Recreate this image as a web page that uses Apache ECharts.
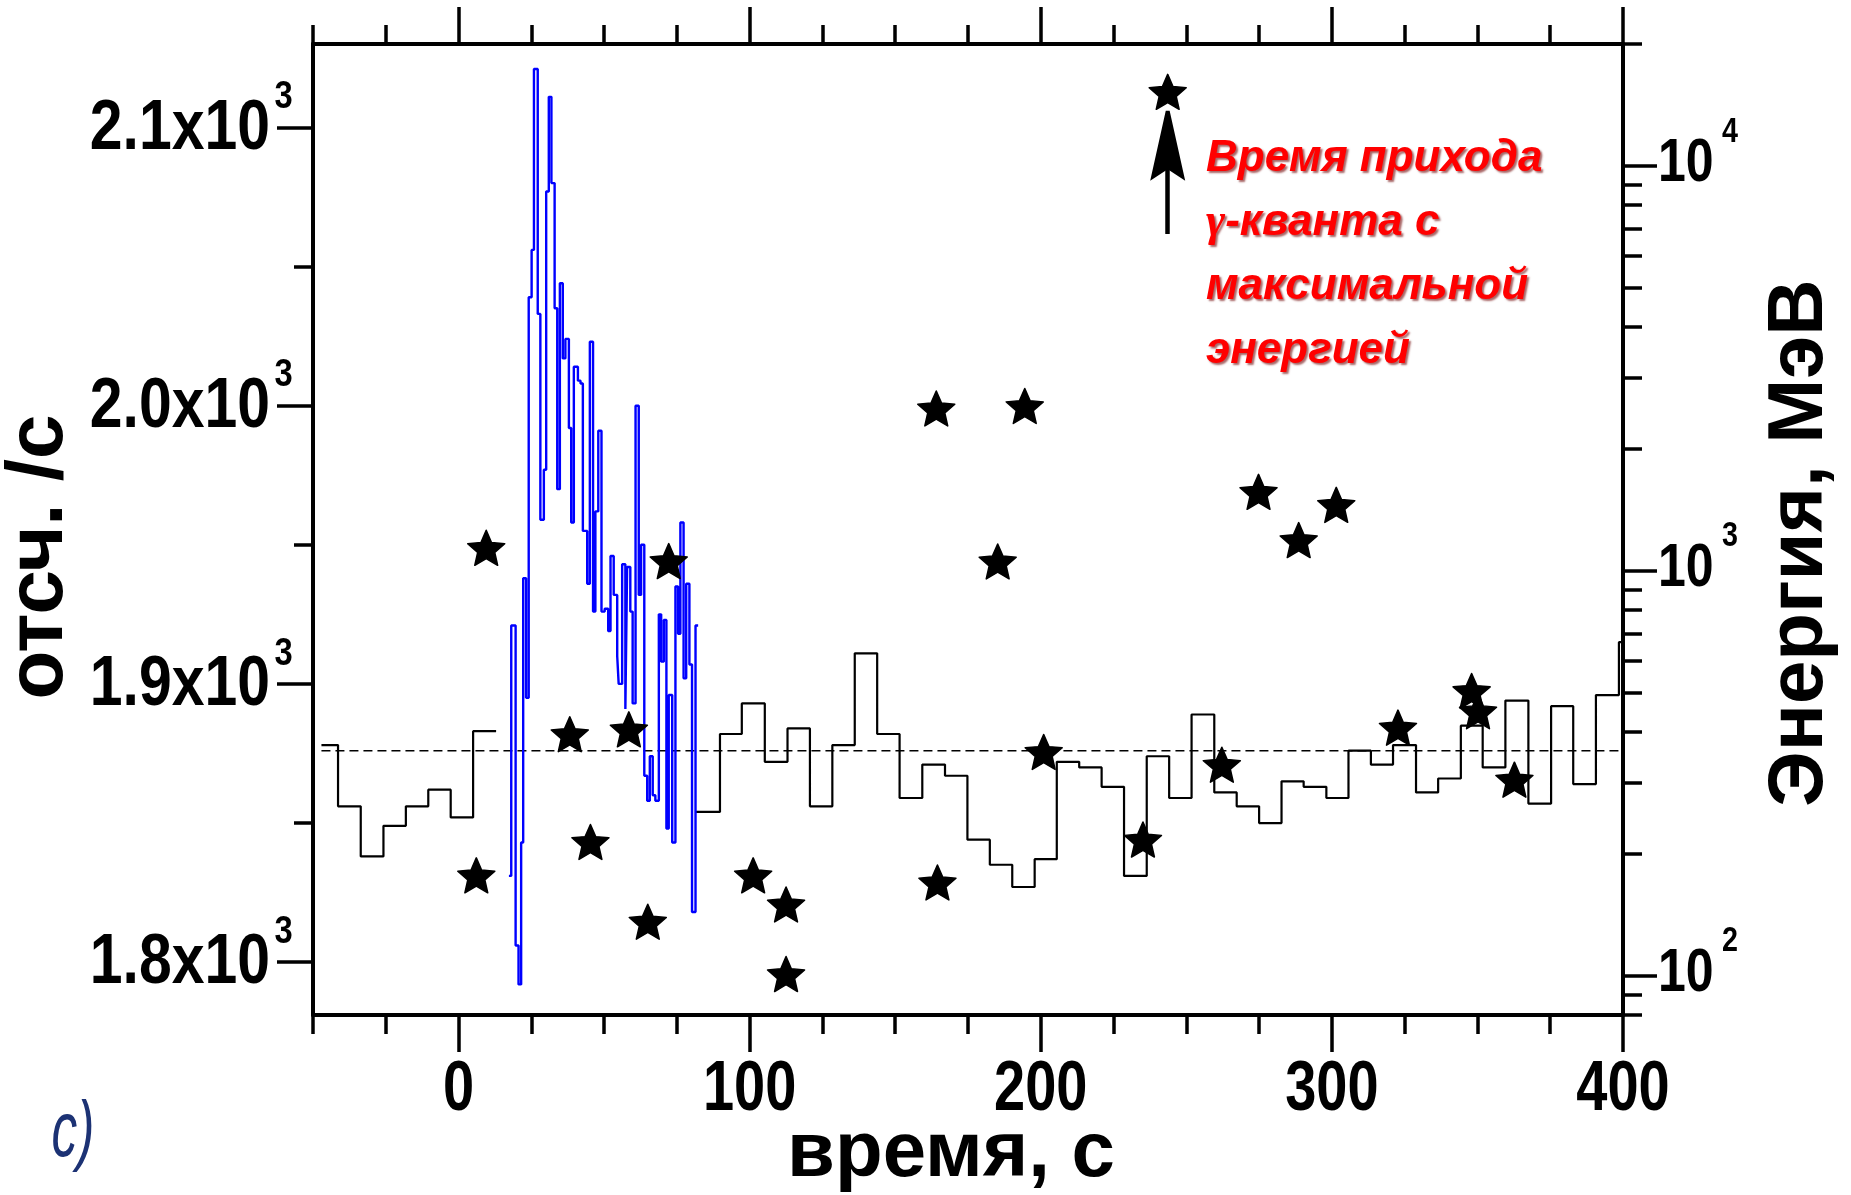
<!DOCTYPE html>
<html><head><meta charset="utf-8">
<script src="https://cdn.jsdelivr.net/npm/echarts@6/dist/echarts.min.js"></script>
<style>html,body{margin:0;padding:0;background:#fff}#c{width:1851px;height:1195px}</style>
</head><body><div id="c"></div>
<script>
// ---------- data ----------
// black histogram (background counts), bin edges in s and count rates
const blackEdgesA = [-47.1, -41.4, -33.6, -25.8, -18.1, -10.4, -2.7, 5.0, 12.9];
const blackValsA  = [1878, 1856, 1838, 1849, 1856, 1862, 1852, 1883];
const blackEdgesB = [81.4, 89.8, 97.3, 105.2, 113.0, 120.7, 128.4, 136.1, 143.8, 151.5, 159.3, 167.1, 174.8, 182.5, 190.2, 197.9, 205.5, 213.2, 220.9, 228.6, 236.4, 244.1, 251.8, 259.6, 267.3, 275.0, 282.7, 290.3, 298.1, 305.7, 313.4, 321.0, 328.9, 336.5, 344.3, 351.8, 359.6, 367.5, 375.3, 382.9, 390.7, 398.6, 406.3];
const blackValsB  = [1854, 1882, 1893, 1872, 1884, 1856, 1878, 1911, 1882, 1859, 1871, 1867, 1844, 1835, 1827, 1837, 1872, 1870, 1863, 1831, 1874, 1859, 1889, 1861, 1856, 1850, 1865, 1863, 1859, 1876, 1871, 1878, 1861, 1866, 1885, 1870, 1894, 1857, 1892, 1864, 1896, 1915];
// blue histogram (burst, fine bins)
const blueEdges = [17.3, 18.1, 19.6, 20.6, 21.5, 22.2, 23.2, 24.1, 25.1, 25.9, 27.2, 28.1, 29.3, 30.1, 31.0, 31.9, 33.0, 33.9, 34.8, 35.8, 36.7, 37.9, 38.7, 39.6, 41.0, 41.9, 42.7, 44.2, 45.1, 46.2, 47.0, 48.0, 49.1, 50.2, 51.4, 52.2, 53.3, 54.5, 55.0, 56.2, 57.3, 57.9, 59.0, 59.8, 60.8, 61.9, 62.7, 63.8, 64.8, 65.7, 66.7, 67.6, 68.8, 69.6, 70.5, 71.4, 72.2, 73.4, 74.5, 75.4, 76.2, 77.3, 78.2, 79.3, 80.2, 81.4, 82.3];
const blueVals  = [1831, 1921, 1806, 1792, 1843, 1938, 1895, 2039, 2056, 2121, 2033, 1959, 1977, 2077, 2111, 2080, 2035, 1970, 2044, 2017, 2024, 1992, 1958, 2014, 2009, 2008, 1955, 1936, 2023, 1926, 1962, 1991, 1926, 1927, 1919, 1946, 1932, 1910, 1900, 1943, 1891, 1942, 1926, 1893, 2000, 1932, 1950, 1867, 1858, 1874, 1860, 1858, 1925, 1908, 1923, 1848, 1896, 1843, 1935, 1918, 1958, 1902, 1936, 1907, 1818, 1921];
// mean background level
const meanLevel = 1876;
const meanSpan = [-47.1, 400];
// gamma quanta: arrival time (s) and energy (MeV)
const starT = [9.5, 6.1, 38.2, 45.3, 58.5, 65.0, 72.2, 101.2, 112.5, 112.5, 164.1, 164.5, 185.2, 194.5, 201.0, 235.1, 243.6, 262.2, 274.8, 288.6, 301.5, 322.7, 348.0, 350.2, 362.7];
const starE = [1140, 177, 395, 214, 406, 136, 1057, 177, 150, 101, 2518, 170, 1055, 2553, 357, 217, 15240, 332, 1567, 1191, 1455, 410, 505, 450, 305];
// arrow annotation (time, shaft energy range, head centre energy)
const arrowT = 243.6;
const arrowE = [6790, 10500];
const arrowHeadE = 11220;
// axes
const xRange = [-50, 400];
const xMajorTicks = [0, 100, 200, 300, 400];
const yLeftRange = [1781, 2130];
const yLeftMajor = [1800, 1900, 2000, 2100];
const yLeftMinor = [1850, 1950, 2050];
const yRightRange = [80, 20000];
const yRightMajor = [100, 1000, 10000];
const yRightMinor = [80, 90, 200, 300, 400, 500, 600, 700, 800, 900, 2000, 3000, 4000, 5000, 6000, 7000, 8000, 9000, 20000];
// texts
const xTitle = 'время, с';
const yLeftTitle = 'отсч. /с';
const yRightTitle = 'Энергия, МэВ';
const noteLines = ['Время прихода', 'γ', '-кванта с', 'максимальной', 'энергией'];
const panelLabel = 'c)';

// ---------- helpers ----------
function stepData(edges, vals) {
  const d = [];
  for (let i = 0; i < vals.length; i++) d.push([edges[i], vals[i]]);
  d.push([edges[vals.length], vals[vals.length - 1]]);
  return d;
}
const SANS = "'Liberation Sans',Arial,sans-serif";
const SERIF = "'Liberation Serif','Times New Roman',serif";
const axisLineStyle = {color: '#000', width: 4};
const tickStyle = {color: '#000', width: 3.5};
const STAR = 'path://M50,0 L63.52,31.39 L97.55,34.55 L71.87,57.11 L79.39,90.45 L50,73 L20.61,90.45 L28.13,57.11 L2.45,34.55 L36.48,31.39 Z';
const HEAD = 'path://M16,0 L20,0 L36,74 L18,62 L0,74 Z';

const chart = echarts.init(document.getElementById('c'), null, {renderer: 'canvas', width: 1851, height: 1195});
chart.setOption({
  animation: false,
  backgroundColor: '#fff',
  grid: {left: 313, right: 228, top: 44, bottom: 180, containLabel: false},
  xAxis: [
    {type: 'value', position: 'bottom', min: xRange[0], max: xRange[1], interval: 25,
     axisLine: {show: true, onZero: false, lineStyle: axisLineStyle},
     axisTick: {show: true, length: 19, lineStyle: tickStyle},
     axisLabel: {show: false}, splitLine: {show: false}},
    {type: 'value', position: 'bottom', min: xRange[0], max: xRange[1],
     axisLine: {show: false, onZero: false},
     axisTick: {show: true, length: 37, lineStyle: tickStyle, customValues: xMajorTicks},
     axisLabel: {show: false}, splitLine: {show: false}},
    {type: 'value', position: 'top', min: xRange[0], max: xRange[1], interval: 25,
     axisLine: {show: true, onZero: false, lineStyle: axisLineStyle},
     axisTick: {show: true, length: 19, lineStyle: tickStyle},
     axisLabel: {show: false}, splitLine: {show: false}},
    {type: 'value', position: 'top', min: xRange[0], max: xRange[1],
     axisLine: {show: false, onZero: false},
     axisTick: {show: true, length: 37, lineStyle: tickStyle, customValues: xMajorTicks},
     axisLabel: {show: false}, splitLine: {show: false}}
  ],
  yAxis: [
    {type: 'value', position: 'left', min: yLeftRange[0], max: yLeftRange[1],
     axisLine: {show: true, onZero: false, lineStyle: axisLineStyle},
     axisTick: {show: true, length: 36, lineStyle: tickStyle, customValues: yLeftMajor},
     axisLabel: {show: false}, splitLine: {show: false}},
    {type: 'value', position: 'left', min: yLeftRange[0], max: yLeftRange[1],
     axisLine: {show: false, onZero: false},
     axisTick: {show: true, length: 19, lineStyle: tickStyle, customValues: yLeftMinor},
     axisLabel: {show: false}, splitLine: {show: false}},
    {type: 'log', logBase: 10, position: 'right', min: yRightRange[0], max: yRightRange[1],
     axisLine: {show: true, onZero: false, lineStyle: axisLineStyle},
     axisTick: {show: true, length: 34, lineStyle: tickStyle, customValues: yRightMajor},
     axisLabel: {show: false}, splitLine: {show: false}},
    {type: 'log', logBase: 10, position: 'right', min: yRightRange[0], max: yRightRange[1],
     axisLine: {show: false, onZero: false},
     axisTick: {show: true, length: 19, lineStyle: tickStyle, customValues: yRightMinor},
     axisLabel: {show: false}, splitLine: {show: false}}
  ],
  series: [
    {type: 'line', name: 'bgA', xAxisIndex: 0, yAxisIndex: 0, data: stepData(blackEdgesA, blackValsA),
     step: 'end', symbol: 'none', clip: true, silent: true, z: 3,
     lineStyle: {color: '#000', width: 2.2}},
    {type: 'line', name: 'bgB', xAxisIndex: 0, yAxisIndex: 0, data: stepData(blackEdgesB, blackValsB),
     step: 'end', symbol: 'none', clip: true, silent: true, z: 3,
     lineStyle: {color: '#000', width: 2.2}},
    {type: 'line', name: 'mean', xAxisIndex: 0, yAxisIndex: 0,
     data: [[meanSpan[0], meanLevel], [meanSpan[1], meanLevel]],
     symbol: 'none', clip: true, silent: true, z: 2,
     lineStyle: {color: '#000', width: 1.6, type: [9, 5]}},
    {type: 'line', name: 'burst', xAxisIndex: 0, yAxisIndex: 0, data: stepData(blueEdges, blueVals),
     step: 'end', symbol: 'none', clip: true, silent: true, z: 4,
     lineStyle: {color: '#0000ff', width: 2.4}},
    {type: 'scatter', name: 'gamma', xAxisIndex: 0, yAxisIndex: 2,
     data: starT.map((t, i) => [t, starE[i]]),
     symbol: STAR, symbolSize: [37, 35], z: 6, silent: true,
     itemStyle: {color: '#000', opacity: 1, borderColor: '#000', borderWidth: 1.5, borderJoin: 'round'},
     markLine: {silent: true, symbol: ['none', 'none'], animation: false,
       label: {show: false}, lineStyle: {color: '#000', width: 4.5, type: 'solid', opacity: 1},
       data: [[{coord: [arrowT, arrowE[0]]}, {coord: [arrowT, arrowE[1]]}]]},
     markPoint: {silent: true, animation: false, symbol: HEAD, symbolSize: [35, 70],
       label: {show: false}, itemStyle: {color: '#000', opacity: 1},
       data: [{coord: [arrowT, arrowHeadE]}]}}
  ]
});

// ---------- tick labels and titles (real text, positioned through the axes' scales) ----------
const g = [];
function txt(x, y, text, font, align, extra) {
  return Object.assign({type: 'text', x: x, y: y, silent: true,
    style: {text: text, fill: '#000', font: font, align: align, verticalAlign: 'middle'}}, extra || {});
}
xMajorTicks.forEach(v => {
  const px = chart.convertToPixel({xAxisIndex: 0}, v);
  g.push(txt(px, 1091, String(v), 'bold 70px ' + SANS, 'center', {scaleX: 0.8}));
});
const leftAxisPx = chart.convertToPixel({xAxisIndex: 0}, xRange[0]);
yLeftMajor.forEach(v => {
  const py = chart.convertToPixel({yAxisIndex: 0}, v);
  g.push(txt(leftAxisPx - 43, py + 1.5, (v / 1000).toFixed(1) + 'x10', 'bold 71px ' + SANS, 'right', {scaleX: 0.83}));
  g.push(txt(leftAxisPx - 38.5, py - 30, '3', 'bold 39px ' + SANS, 'left', {scaleX: 0.84}));
});
const rightAxisPx = chart.convertToPixel({xAxisIndex: 0}, xRange[1]);
yRightMajor.forEach(v => {
  const py = chart.convertToPixel({yAxisIndex: 2}, v);
  g.push(txt(rightAxisPx + 35, py - 2, '10', 'bold 61px ' + SANS, 'left', {scaleX: 0.82}));
  g.push(txt(rightAxisPx + 99, py - 34, String(Math.round(Math.log10(v))), 'bold 35px ' + SANS, 'left', {scaleX: 0.82}));
});
g.push(txt(951, 1154, xTitle, 'bold 78px ' + SANS, 'center'));
g.push(txt(40, 557, yLeftTitle, 'bold 80px ' + SANS, 'center', {rotation: Math.PI / 2}));
g.push(txt(1800, 543, yRightTitle, 'bold 78px ' + SANS, 'center', {rotation: Math.PI / 2}));
const shadow = {textShadowColor: 'rgba(110,0,0,0.6)', textShadowBlur: 2, textShadowOffsetX: 2, textShadowOffsetY: 2};
const noteStyle = Object.assign({fontFamily: SANS, fontWeight: 'bold', fontStyle: 'italic', fontSize: 44, lineHeight: 64, fill: '#ff0000'}, shadow);
const gammaStyle = Object.assign({fontFamily: SERIF, fontWeight: 'bold', fontStyle: 'italic', fontSize: 46, lineHeight: 64, fill: '#ff0000'}, shadow);
g.push({type: 'text', x: 1206, y: 127, silent: true,
  style: {text: '{n|' + noteLines[0] + '}\n{g|' + noteLines[1] + '}{n|' + noteLines[2] + '}\n{n|' + noteLines[3] + '}\n{n|' + noteLines[4] + '}',
    align: 'left', verticalAlign: 'top', rich: {n: noteStyle, g: gammaStyle}}});
g.push({type: 'text', x: 73, y: 1134, scaleX: 0.66, silent: true,
  style: {text: panelLabel, fill: '#1c3274', font: 'italic 78px ' + SANS, align: 'center', verticalAlign: 'middle'}});
chart.setOption({graphic: g});
</script>
</body></html>
